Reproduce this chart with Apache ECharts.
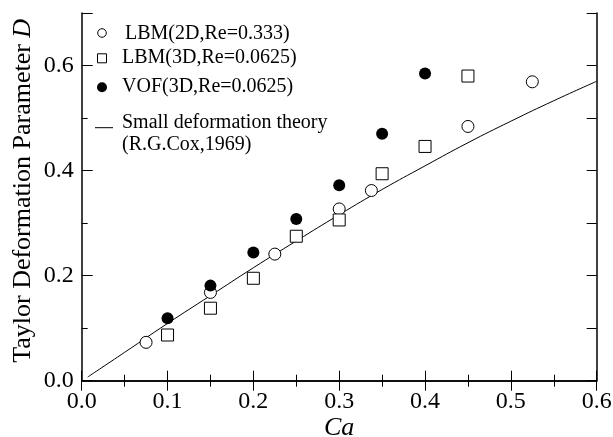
<!DOCTYPE html>
<html><head><meta charset="utf-8">
<script src="https://cdn.jsdelivr.net/npm/echarts@6/dist/echarts.min.js"></script>
<style>html,body{margin:0;padding:0;background:#fff}#c{width:613px;height:437px}</style>
</head><body><div id="c"></div>
<script>
// LBM (2D, Re=0.333) — open circles
const lbm2dCa = [0.075, 0.15, 0.225, 0.3, 0.3375, 0.45, 0.525];
const lbm2dD  = [0.073, 0.168, 0.241, 0.327, 0.362, 0.484, 0.569];
// LBM (3D, Re=0.0625) — open squares
const lbm3dCa = [0.1, 0.15, 0.2, 0.25, 0.3, 0.35, 0.4, 0.45];
const lbm3dD  = [0.087, 0.138, 0.195, 0.275, 0.306, 0.394, 0.446, 0.580];
// VOF (3D, Re=0.0625) — filled circles
const vofCa = [0.1, 0.15, 0.2, 0.25, 0.3, 0.35, 0.4];
const vofD  = [0.119, 0.181, 0.244, 0.308, 0.372, 0.470, 0.585];
// Small deformation theory (Cox 1969) — line
const coxCa = [0.007, 0.05, 0.1, 0.15, 0.2, 0.25, 0.3, 0.35, 0.4, 0.45, 0.5, 0.55, 0.6];
const coxD  = [0.007, 0.054, 0.109, 0.162, 0.215, 0.266, 0.316, 0.364, 0.409, 0.453, 0.494, 0.533, 0.570];

const legendNames = ['LBM(2D,Re=0.333)', 'LBM(3D,Re=0.0625)', 'VOF(3D,Re=0.0625)', 'Small deformation theory', '(R.G.Cox,1969)'];

const FONT = 'Liberation Serif';
const zip = (a, b) => a.map((v, i) => [v, b[i]]);

const chart = echarts.init(document.getElementById('c'), null, {renderer: 'canvas'});
const axLine = {show: true, lineStyle: {color: '#000', width: 1.5}};
const tickStyle = {color: '#000', width: 1};
const legText = (t, x, y) => ({type: 'text', left: x, top: y, style: {
  text: t, x: 0, y: 0, fill: '#000', font: '20px ' + FONT, textVerticalAlign: 'top'}});

chart.setOption({
  animation: false,
  backgroundColor: '#fff',
  textStyle: {fontFamily: FONT, color: '#000'},
  grid: {left: 81.7, right: 16.3, top: 13, bottom: 56.3, containLabel: false, outerBoundsMode: 'none'},
  graphic: [
    {type: 'circle', shape: {cx: 102, cy: 33, r: 4.3}, style: {fill: '#fff', stroke: '#000', lineWidth: 1}},
    {type: 'rect', shape: {x: 97.5, y: 53.8, width: 9, height: 9}, style: {fill: '#fff', stroke: '#000', lineWidth: 1}},
    {type: 'circle', shape: {cx: 102, cy: 87.3, r: 5}, style: {fill: '#000'}},
    {type: 'line', shape: {x1: 95, y1: 127.7, x2: 113, y2: 127.7}, style: {stroke: '#000', lineWidth: 1}},
    legText(legendNames[0], 125, 24),
    legText(legendNames[1], 122, 48),
    legText(legendNames[2], 122, 76.5),
    legText(legendNames[3], 122, 113),
    legText(legendNames[4], 122, 135)
  ],
  xAxis: [
    {type: 'value', min: 0, max: 0.6, interval: 0.1, position: 'bottom',
     axisLine: axLine, splitLine: {show: false},
     axisTick: {show: true, inside: true, length: 10, lineStyle: tickStyle},
     minorTick: {show: true, splitNumber: 2, length: 6, lineStyle: tickStyle},
     axisLabel: {fontFamily: FONT, fontSize: 24, color: '#000', margin: 9,
       formatter: v => v.toFixed(1)},
     name: 'Ca', nameLocation: 'middle', nameGap: 34, nameMoveOverlap: false,
     nameTextStyle: {fontFamily: FONT, fontSize: 26, fontStyle: 'italic', color: '#000'}},
    {type: 'value', min: 0, max: 0.6, interval: 0.1, position: 'top',
     axisLine: axLine, splitLine: {show: false},
     axisTick: {show: true, inside: true, length: 10, lineStyle: tickStyle},
     minorTick: {show: true, splitNumber: 2, length: 6, lineStyle: tickStyle},
     axisLabel: {show: false}}
  ],
  yAxis: [
    {type: 'value', min: 0, max: 0.7, interval: 0.2, position: 'left',
     axisLine: axLine, splitLine: {show: false},
     axisTick: {show: true, inside: true, length: 11, lineStyle: tickStyle},
     axisLabel: {fontFamily: FONT, fontSize: 24, color: '#000', margin: 8,
       formatter: v => (Math.abs(v - 0.7) < 1e-6 ? '' : v.toFixed(1))},
     name: '{n|Taylor Deformation Parameter }{i|D}', nameLocation: 'middle', nameGap: 46, nameMoveOverlap: false,
     nameTextStyle: {fontFamily: FONT, fontSize: 26, color: '#000', padding: [0, 0, 0, 12], rich: {
       n: {fontFamily: FONT, fontSize: 26, color: '#000'},
       i: {fontFamily: FONT, fontSize: 26, fontStyle: 'italic', color: '#000'}}}},
    {type: 'value', min: 0, max: 0.7, interval: 0.1, position: 'left',
     axisLine: {show: false}, splitLine: {show: false},
     axisTick: {show: true, inside: true, length: 6, lineStyle: tickStyle},
     axisLabel: {show: false}},
    {type: 'value', min: 0, max: 0.7, interval: 0.1, position: 'right',
     axisLine: axLine, splitLine: {show: false},
     axisTick: {show: true, inside: true, length: 10, lineStyle: tickStyle},
     axisLabel: {show: false}}
  ],
  series: [
    {name: legendNames[0], type: 'scatter', data: zip(lbm2dCa, lbm2dD), symbol: 'circle', symbolSize: 12,
     itemStyle: {color: '#fff', borderColor: '#000', borderWidth: 1, opacity: 1}, z: 3},
    {name: legendNames[1], type: 'scatter', data: zip(lbm3dCa, lbm3dD), symbol: 'rect', symbolSize: 12,
     itemStyle: {color: '#fff', borderColor: '#000', borderWidth: 1, opacity: 1}, z: 3},
    {name: legendNames[2], type: 'scatter', data: zip(vofCa, vofD), symbol: 'circle', symbolSize: 12,
     itemStyle: {color: '#000', opacity: 1}, z: 4},
    {name: legendNames[3], type: 'line', data: zip(coxCa, coxD), showSymbol: false, symbol: 'none', smooth: true,
     lineStyle: {color: '#000', width: 1}, itemStyle: {color: '#000'}, z: 2}
  ]
});
</script></body></html>
